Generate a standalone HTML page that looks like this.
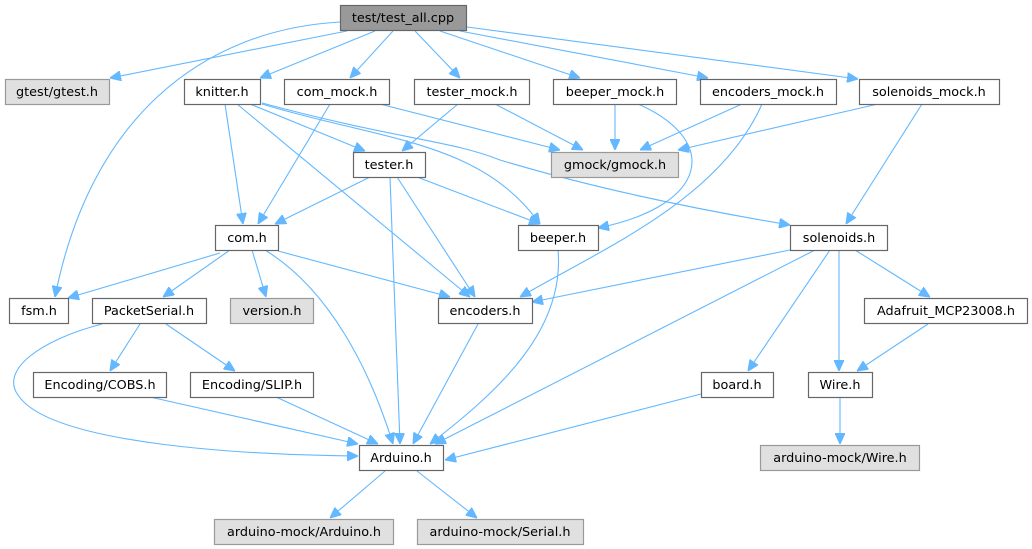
<!DOCTYPE html>
<html><head><meta charset="utf-8"><style>
html,body{margin:0;padding:0;background:#fff}
svg{display:block}
text{font-family:"DejaVu Sans","Liberation Sans",sans-serif;font-size:12.8px;fill:#000;text-anchor:middle}
.n{fill:#fff;stroke:#666;stroke-width:1.2}
.g{fill:#e0e0e0;stroke:#999;stroke-width:1.2}
.r{fill:#999;stroke:#666;stroke-width:1.2}
path{fill:none;stroke:#63b8ff;stroke-width:1.1;marker-end:url(#a)}
</style></head><body>
<svg width="1032" height="549" viewBox="0 0 1032 549">
<defs><marker id="a" viewBox="0 0 11 10" refX="11" refY="5" markerWidth="11" markerHeight="10" markerUnits="userSpaceOnUse" orient="auto"><path d="M0,0 L11,5 L0,10 Z" style="fill:#63b8ff;stroke:#63b8ff;marker-end:none"/></marker></defs>
<path d="M347,31 L110,78"/>
<path d="M340,22 C200,30 90,120 55,297"/>
<path d="M375,31 L260,78"/>
<path d="M393,31 L350,78"/>
<path d="M415,31 L460,78"/>
<path d="M440,31 L580,78"/>
<path d="M460,31 L708,78"/>
<path d="M467,27 L858,79"/>
<path d="M225,104 L243,224"/>
<path d="M237,104 L470,297"/>
<path d="M250,104 L365,151"/>
<path d="M262,104 C380,140 480,140 540,224"/>
<path d="M262,103 C400,140 450,140 500,160 C600,190 700,210 790,225"/>
<path d="M380,104 L560,150"/>
<path d="M330,104 L258,224"/>
<path d="M458,104 L402,151"/>
<path d="M495,104 L583,150"/>
<path d="M615,104 L615,150"/>
<path d="M638,104 C720,140 710,205 598,228"/>
<path d="M742,104 L640,150"/>
<path d="M762,104 C720,200 600,250 520,297"/>
<path d="M878,104 L678,150"/>
<path d="M922,104 L846,224"/>
<path d="M370,177 L275,224"/>
<path d="M390,177 L400,444"/>
<path d="M397,177 L475,297"/>
<path d="M417,177 L540,224"/>
<path d="M220,253 L68,298"/>
<path d="M230,250 L163,297"/>
<path d="M252,250 L266,297"/>
<path d="M278,251 L450,297"/>
<path d="M265,250 C330,290 370,370 393,444"/>
<path d="M558,250 C565,330 500,390 430,444"/>
<path d="M478,324 L413,444"/>
<path d="M790,250 L532,302"/>
<path d="M815,250 L435,444"/>
<path d="M830,250 L748,371"/>
<path d="M839,250 L839,371"/>
<path d="M855,250 L930,297"/>
<path d="M928,324 L857,371"/>
<path d="M840,397 L840,444"/>
<path d="M701,394 L445,460"/>
<path d="M140,324 L110,371"/>
<path d="M166,324 L235,371"/>
<path d="M102,324 C40,340 0,370 18,395 C50,445 250,455 358,456"/>
<path d="M150,397 L358,444"/>
<path d="M276,397 L378,444"/>
<path d="M385,471 L330,518"/>
<path d="M417,471 L477,518"/>

<rect class="r" x="340.5" y="5.5" width="126" height="25"/><text x="403" y="22">test/test_all.cpp</text>
<rect class="g" x="5.5" y="79.5" width="104" height="25"/><text x="57" y="96">gtest/gtest.h</text>
<rect class="n" x="184.5" y="79.5" width="76" height="25"/><text x="222" y="96">knitter.h</text>
<rect class="n" x="284.5" y="79.5" width="105" height="25"/><text x="337" y="96">com_mock.h</text>
<rect class="n" x="414.5" y="79.5" width="115" height="25"/><text x="472" y="96">tester_mock.h</text>
<rect class="n" x="553.5" y="79.5" width="123" height="25"/><text x="615" y="96">beeper_mock.h</text>
<rect class="n" x="700.5" y="79.5" width="136" height="25"/><text x="768" y="96">encoders_mock.h</text>
<rect class="n" x="859.5" y="79.5" width="140" height="25"/><text x="929" y="96">solenoids_mock.h</text>
<rect class="n" x="353.5" y="152.5" width="72" height="25"/><text x="389" y="169">tester.h</text>
<rect class="g" x="551.5" y="152.5" width="127" height="25"/><text x="615" y="169">gmock/gmock.h</text>
<rect class="n" x="215.5" y="225.5" width="63" height="25"/><text x="247" y="242">com.h</text>
<rect class="n" x="518.5" y="225.5" width="80" height="25"/><text x="558" y="242">beeper.h</text>
<rect class="n" x="790.5" y="225.5" width="97" height="25"/><text x="839" y="242">solenoids.h</text>
<rect class="n" x="9.5" y="298.5" width="59" height="25"/><text x="39" y="315">fsm.h</text>
<rect class="n" x="92.5" y="298.5" width="114" height="25"/><text x="149" y="315">PacketSerial.h</text>
<rect class="g" x="230.5" y="298.5" width="83" height="25"/><text x="272" y="315">version.h</text>
<rect class="n" x="438.5" y="298.5" width="94" height="25"/><text x="485" y="315">encoders.h</text>
<rect class="n" x="864.5" y="298.5" width="163" height="25"/><text x="946" y="315">Adafruit_MCP23008.h</text>
<rect class="n" x="33.5" y="372.5" width="133" height="25"/><text x="100" y="389">Encoding/COBS.h</text>
<rect class="n" x="190.5" y="372.5" width="123" height="25"/><text x="252" y="389">Encoding/SLIP.h</text>
<rect class="n" x="701.5" y="372.5" width="72" height="25"/><text x="737" y="389">board.h</text>
<rect class="n" x="808.5" y="372.5" width="64" height="25"/><text x="840" y="389">Wire.h</text>
<rect class="n" x="359.5" y="445.5" width="84" height="25"/><text x="401" y="462">Arduino.h</text>
<rect class="g" x="760.5" y="445.5" width="159" height="25"/><text x="840" y="462">arduino-mock/Wire.h</text>
<rect class="g" x="214.5" y="519.5" width="179" height="25"/><text x="304" y="536">arduino-mock/Arduino.h</text>
<rect class="g" x="417.5" y="519.5" width="166" height="25"/><text x="500" y="536">arduino-mock/Serial.h</text>
</svg>
</body></html>
